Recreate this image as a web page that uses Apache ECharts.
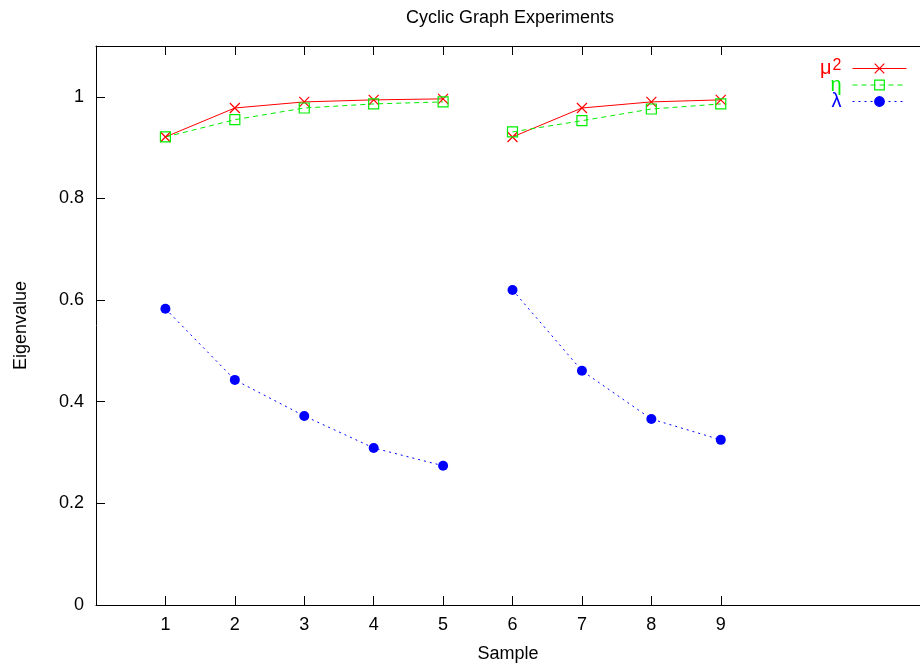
<!DOCTYPE html>
<html>
<head>
<meta charset="utf-8">
<script src="https://cdn.jsdelivr.net/npm/echarts@6/dist/echarts.min.js"></script>
<style>
html,body{margin:0;padding:0;background:#fff;}
#chart{width:920px;height:669px;}
</style>
</head>
<body>
<div id="chart"></div>
<script>
const samples = [1, 2, 3, 4, 5, 6, 7, 8, 9];
const mu2 = [0.921, 0.978, 0.990, 0.994, 0.996, 0.921, 0.978, 0.990, 0.994];
const eta = [0.921, 0.955, 0.978, 0.986, 0.990, 0.931, 0.953, 0.976, 0.986];
const lambda = [0.583, 0.443, 0.372, 0.309, 0.274, 0.620, 0.461, 0.366, 0.325];
const breakAfter = 5; // experiments are drawn as two separate runs
const xTicks = [1, 2, 3, 4, 5, 6, 7, 8, 9];
const yTicks = [0, 0.2, 0.4, 0.6, 0.8, 1];

function pairs(vals) {
  const out = [];
  samples.forEach((s, i) => {
    out.push([s, vals[i]]);
    if (s === breakAfter) out.push([s + 0.5, '-']);
  });
  return out;
}

const FONT = 'Liberation Sans, Arial, Helvetica, sans-serif';
const RED = '#ff0000', GREEN = '#00ee00', BLUE = '#0000ff';
const crossPath = 'path://M0,0L10,10M10,0L0,10';

const chart = echarts.init(document.getElementById('chart'), null, {renderer: 'canvas'});
chart.setOption({
  animation: false,
  backgroundColor: '#fff',
  textStyle: {fontFamily: FONT},
  title: {
    text: 'Cyclic Graph Experiments',
    left: 406, top: 9, padding: 0,
    textStyle: {fontFamily: FONT, fontSize: 18, fontWeight: 'normal', color: '#000'}
  },
  grid: {left: 96, top: 46, bottom: 64, right: 0, containLabel: false},
  legend: {
    orient: 'vertical',
    right: 13, top: 58, padding: 0,
    align: 'right',
    itemWidth: 54, itemHeight: 12, itemGap: -3.5,
    lineStyle: {width: 1},
    itemStyle: {borderWidth: 1.2},
    data: [
      {name: 'mu2'}, {name: 'eta'}, {name: 'lambda'}
    ],
    formatter: function (n) {
      if (n === 'mu2') return '{r|μ}{rs|2}';
      if (n === 'eta') return '{g|η}';
      return '{b|λ}';
    },
    textStyle: {
      fontFamily: FONT,
      rich: {
        r: {color: RED, fontSize: 20, fontFamily: FONT, lineHeight: 21, verticalAlign: 'middle'},
        rs: {color: RED, fontSize: 16, fontFamily: FONT, lineHeight: 21, verticalAlign: 'top', padding: [0, 6, 0, 1]},
        g: {color: GREEN, fontSize: 20, fontFamily: FONT, lineHeight: 21, padding: [0, 6, 0, 0]},
        b: {color: BLUE, fontSize: 20, fontFamily: FONT, lineHeight: 21, padding: [0, 6, 0, 0]}
      }
    }
  },
  xAxis: [{
    type: 'value', min: 0, max: 11.87, interval: 1,
    name: 'Sample', nameLocation: 'middle', nameGap: 40,
    nameTextStyle: {fontFamily: FONT, fontSize: 18, color: '#000'},
    axisLine: {lineStyle: {color: '#000', width: 1}},
    axisTick: {inside: true, length: 9, customValues: xTicks, lineStyle: {color: '#000'}},
    axisLabel: {customValues: xTicks, margin: 11, fontFamily: FONT, fontSize: 18, color: '#000'},
    splitLine: {show: false}
  }, {
    type: 'value', min: 0, max: 11.87, interval: 1, position: 'top',
    axisLine: {lineStyle: {color: '#000', width: 1}},
    axisTick: {inside: true, length: 9, customValues: xTicks, lineStyle: {color: '#000'}},
    axisLabel: {show: false},
    splitLine: {show: false}
  }],
  yAxis: {
    type: 'value', min: 0, max: 1.1, interval: 0.2,
    name: 'Eigenvalue', nameLocation: 'middle', nameGap: 66, nameRotate: 90,
    nameTextStyle: {fontFamily: FONT, fontSize: 18, color: '#000'},
    axisLine: {show: true, lineStyle: {color: '#000', width: 1}},
    axisTick: {show: true, inside: true, length: 9, customValues: yTicks, lineStyle: {color: '#000'}},
    axisLabel: {customValues: yTicks, margin: 12, fontFamily: FONT, fontSize: 18, color: '#000'},
    splitLine: {show: false}
  },
  series: [{
    name: 'mu2', type: 'line', data: pairs(mu2), connectNulls: false,
    symbol: crossPath, symbolSize: 10,
    lineStyle: {color: RED, width: 1, type: 'solid'},
    itemStyle: {color: 'none', borderColor: RED, borderWidth: 1.2}
  }, {
    name: 'eta', type: 'line', data: pairs(eta), connectNulls: false,
    symbol: 'rect', symbolSize: 10,
    lineStyle: {color: GREEN, width: 1, type: [5, 4]},
    itemStyle: {color: 'none', borderColor: GREEN, borderWidth: 1.2}
  }, {
    name: 'lambda', type: 'line', data: pairs(lambda), connectNulls: false,
    symbol: 'circle', symbolSize: 10,
    lineStyle: {color: BLUE, width: 1, type: [2, 4]},
    itemStyle: {color: BLUE, borderColor: BLUE, borderWidth: 0}
  }]
});
</script>
</body>
</html>
